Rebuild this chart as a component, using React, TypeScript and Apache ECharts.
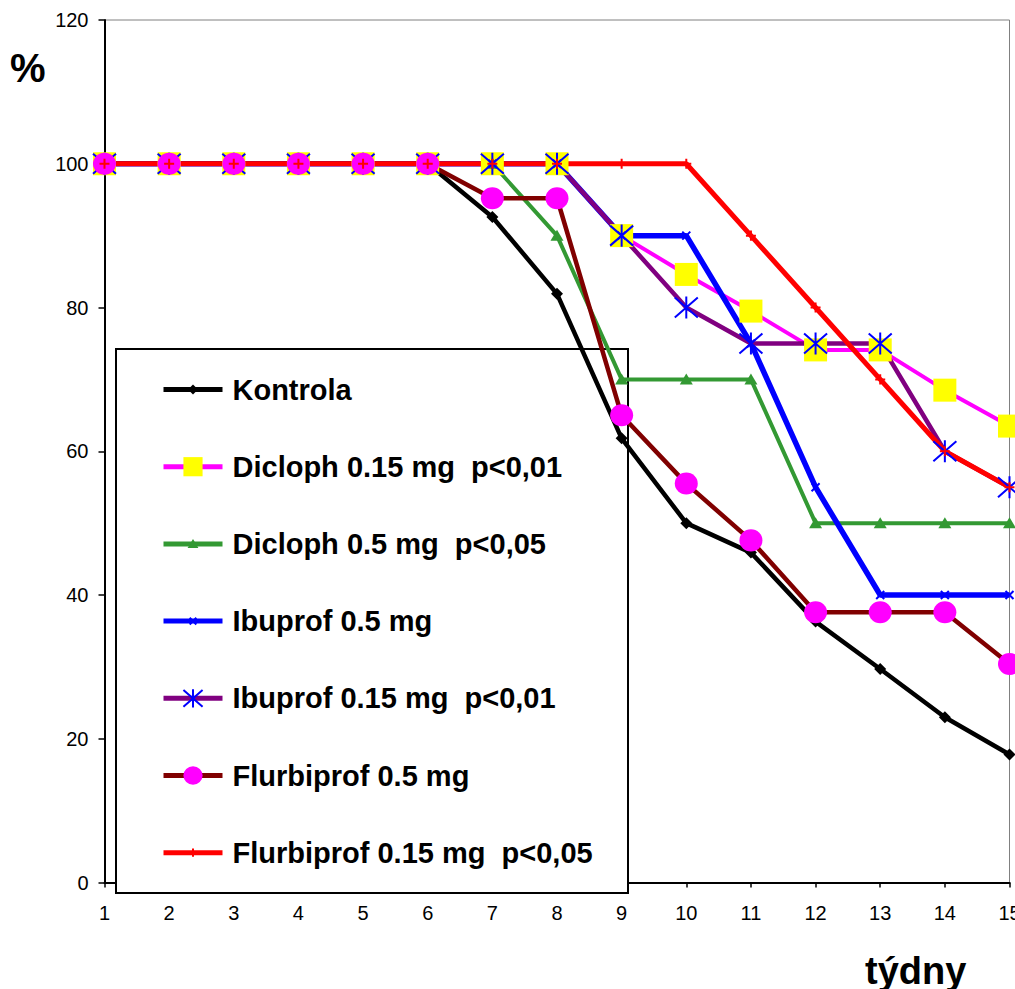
import React, { useEffect, useRef } from "react";
import * as echarts from "echarts";

const weeks = [1, 2, 3, 4, 5, 6, 7, 8, 9, 10, 11, 12, 13, 14, 15];
const yTicks = [0, 20, 40, 60, 80, 100, 120];

const seriesNames = [
  "Kontrola",
  "Dicloph 0.15 mg  p<0,01",
  "Dicloph 0.5 mg  p<0,05",
  "Ibuprof 0.5 mg",
  "Ibuprof 0.15 mg  p<0,01",
  "Flurbiprof 0.5 mg",
  "Flurbiprof 0.15 mg  p<0,05",
];

const kontrola = [100, 100, 100, 100, 100, 100, 92.6, 81.9, 61.8, 50, 45.9, 36.3, 29.7, 23.0, 17.8];
const dicloph015 = [100, 100, 100, 100, 100, 100, 100, 100, 90, 84.6, 79.5, 74.1, 74.1, 68.5, 63.5];
const dicloph05 = [100, 100, 100, 100, 100, 100, 100, 90, 70, 70, 70, 50, 50, 50, 50];
const ibuprof05 = [100, 100, 100, 100, 100, 100, 100, 100, 90, 90, 75, 55, 40, 40, 40];
const ibuprof015 = [100, 100, 100, 100, 100, 100, 100, 100, 90, 80, 75, 75, 75, 60, 55];
const flurbi05 = [100, 100, 100, 100, 100, 100, 95.2, 95.2, 65, 55.5, 47.6, 37.6, 37.6, 37.6, 30.4];
const flurbi015 = [100, 100, 100, 100, 100, 100, 100, 100, 100, 100, 90, 80, 70, 60, 55];

const FONT = '"Liberation Sans", Arial, sans-serif';
const PAD = "path://M0 0M24 24";
const SYM = {
  diamond: PAD + "M12 6L18 12L12 18L6 12Z",
  square: PAD + "M0.5 0.5L23.5 0.5L23.5 23.5L0.5 23.5Z",
  triangle: PAD + "M12 6L18.5 17L5.5 17Z",
  xs: PAD + "M8 8L16 16M16 8L8 16",
  asterisk: PAD + "M0.5 2L23.5 22M23.5 2L0.5 22M12 1L12 23",
  circle: PAD + "M0.5 12A11.5 11 0 1 0 23.5 12A11.5 11 0 1 0 0.5 12Z",
  plus: PAD + "M12 7L12 17M7 12L17 12",
};

function pairs(vals: number[]) {
  return weeks.map((w, i) => [w, vals[i]]);
}

export default function App() {
  const ref = useRef<HTMLDivElement>(null);
  useEffect(() => {
    if (!ref.current) return;
    const chart = echarts.init(ref.current, undefined, { renderer: "svg" });
    const mk = (
      name: string,
      vals: number[],
      lineColor: string,
      lineWidth: number,
      symbol: string,
      symColor: string,
      stroked: boolean
    ) => ({
      type: "line",
      name,
      data: pairs(vals),
      clip: false,
      symbol,
      symbolSize: 24,
      showSymbol: true,
      lineStyle: { color: lineColor, width: lineWidth },
      itemStyle: {
        color: symColor,
        borderColor: symColor,
        borderWidth: stroked ? 2 : 0,
      },
      emphasis: { disabled: true },
    });
    const option: any = {
      animation: false,
      backgroundColor: "#ffffff",
      grid: {
        left: 104.5,
        right: 5.5,
        top: 20,
        bottom: 106.5,
        show: true,
        borderColor: "#808080",
        borderWidth: 1,
        backgroundColor: "transparent",
        containLabel: false,
        outerBoundsMode: "none",
      },
      xAxis: {
        type: "value",
        min: 1,
        max: 15,
        interval: 1,
        axisLine: { show: true, onZero: false, lineStyle: { color: "#000", width: 2 } },
        axisTick: { show: true, length: 5, lineStyle: { color: "#000", width: 1.5 } },
        axisLabel: {
          color: "#000",
          fontSize: 20,
          fontFamily: FONT,
          margin: 20,
          showMinLabel: true,
          showMaxLabel: true,
        },
        splitLine: { show: false },
      },
      yAxis: {
        type: "value",
        min: yTicks[0],
        max: yTicks[yTicks.length - 1],
        interval: 20,
        axisLine: { show: true, onZero: false, lineStyle: { color: "#000", width: 2 } },
        axisTick: { show: true, length: 6, lineStyle: { color: "#000", width: 1.5 } },
        axisLabel: { color: "#000", fontSize: 20, fontFamily: FONT, margin: 16 },
        splitLine: { show: false },
      },
      legend: {
        orient: "vertical",
        left: 161,
        top: 375,
        padding: 0,
        itemWidth: 59,
        itemHeight: 25,
        itemGap: 48.2,
        selectedMode: false,
        z: 10,
        textStyle: {
          color: "#000",
          fontSize: 29,
          fontWeight: "bold",
          fontFamily: FONT,
          lineHeight: 25,
          padding: [0, 0, 0, 5],
        },
        lineStyle: { width: 5 },
        data: seriesNames,
      },
      graphic: [
        {
          type: "rect",
          z: 3,
          shape: { x: 116, y: 349, width: 512, height: 544 },
          style: { fill: "#fff", stroke: "#000", lineWidth: 2 },
        },
        {
          type: "text",
          z: 5,
          x: 10,
          y: 68,
          style: {
            text: "%",
            fontSize: 40,
            fontWeight: "bold",
            fontFamily: FONT,
            fill: "#000",
            verticalAlign: "middle",
            textVerticalAlign: "middle",
          },
        },
        {
          type: "text",
          z: 5,
          x: 865,
          y: 971,
          style: {
            text: "týdny",
            fontSize: 38,
            fontWeight: "bold",
            fontFamily: FONT,
            fill: "#000",
            verticalAlign: "middle",
            textVerticalAlign: "middle",
          },
        },
      ],
      series: [
        mk(seriesNames[0], kontrola, "#000000", 4.5, SYM.diamond, "#000000", false),
        mk(seriesNames[1], dicloph015, "#FF00FF", 4, SYM.square, "#FFFF00", false),
        mk(seriesNames[2], dicloph05, "#339933", 4, SYM.triangle, "#339933", false),
        mk(seriesNames[3], ibuprof05, "#0000FF", 5.5, SYM.xs, "#0000FF", true),
        mk(seriesNames[4], ibuprof015, "#800080", 4.5, SYM.asterisk, "#0000FF", true),
        mk(seriesNames[5], flurbi05, "#800000", 4.5, SYM.circle, "#FF00FF", false),
        mk(seriesNames[6], flurbi015, "#FF0000", 5, SYM.plus, "#FF0000", true),
      ],
    };
    chart.setOption(option);
    return () => chart.dispose();
  }, []);
  return (
    <div
      ref={ref}
      style={{ position: "fixed", left: 0, top: 0, width: 1015, height: 989, background: "#fff" }}
    />
  );
}
